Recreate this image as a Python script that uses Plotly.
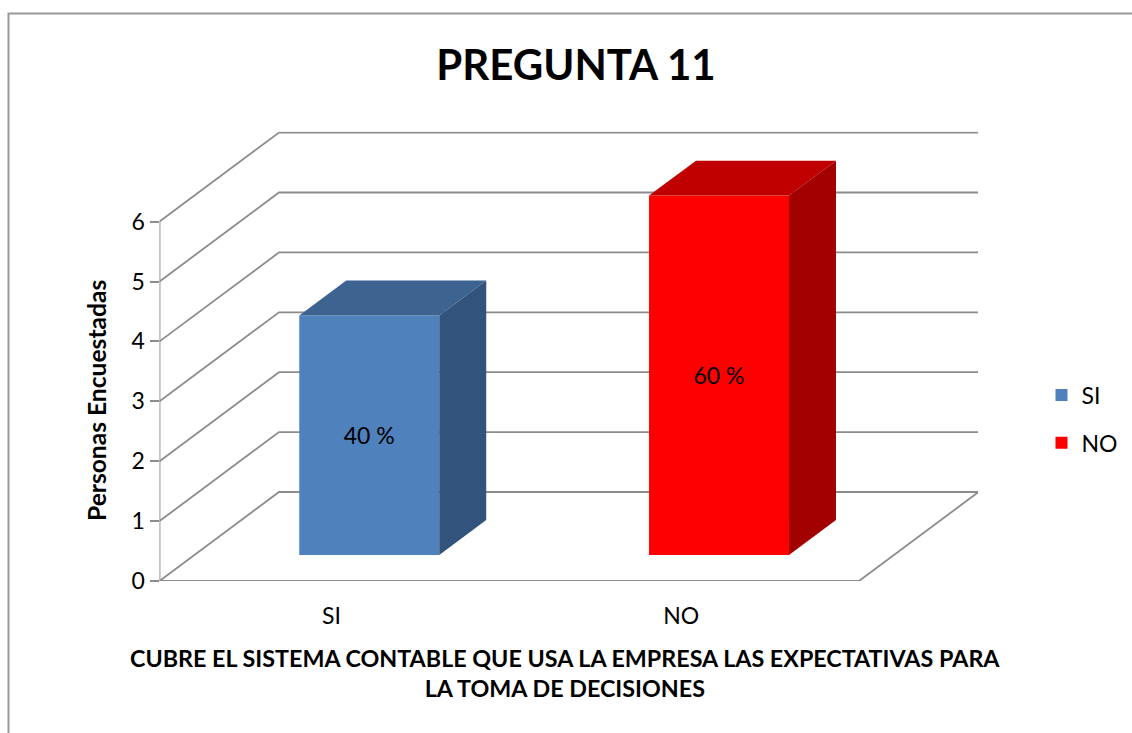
import plotly.graph_objects as go

# ---- data ----
categories = ["SI", "NO"]
values = [4, 6]
value_labels = ["40 %", "60 %"]
y_ticks = [0, 1, 2, 3, 4, 5, 6]
front_colors = ["#4F81BD", "#FF0000"]
top_colors = ["#3D6391", "#C00000"]
side_colors = ["#32547C", "#A30000"]
title_text = "PREGUNTA 11"
x_title = "CUBRE EL SISTEMA CONTABLE QUE USA LA EMPRESA LAS EXPECTATIVAS PARA<br>LA TOMA DE DECISIONES"
y_title = "Personas Encuestadas"

# ---- page geometry (pixels) ----
W, H = 1132, 733
PX_L, PX_R, PX_T, PX_B = 159.5, 978.0, 131.5, 581.0
PX_PER_CAT = 349.75
PX_PER_VAL = 59.9
DEPTH_X, DEPTH_Y = 119.5, 89.0        # oblique offset of the back wall
BAR_W = 140.0
BAR_D0, BAR_D1 = 0.292, 0.685         # bar depth span (0 front, 1 back)
LINE = "#8C8C8C"
FONT = "Lato, 'Open Sans', sans-serif"

dx = DEPTH_X / PX_PER_CAT
dy = DEPTH_Y / PX_PER_VAL
bw = BAR_W / PX_PER_CAT
x0 = -0.5
x1 = x0 + 2.0                          # right end of the front floor edge


def proj(x, v, d):
    """Oblique projection: category position, value, depth -> axis coordinates."""
    return x + d * dx, v + d * dy


fig = go.Figure()
shapes = []


def poly(points):
    path = "M" + " L".join(f"{a},{b}" for a, b in points)
    shapes.append(dict(type="path", path=path, xref="x", yref="y", layer="below",
                       line=dict(color=LINE, width=1.8)))


# walls' gridlines: front edge -> back wall -> right end
for v in y_ticks:
    poly([proj(x0, v, 0), proj(x0, v, 1), proj(x1, v, 1)])
# floor outline and vertical axis
poly([proj(x0, 0, 0), proj(x1, 0, 0), proj(x1, 0, 1)])
poly([proj(x0, y_ticks[0], 0), proj(x0, y_ticks[-1], 0)])

# chart frame, cut by the page on the right and at the bottom
shapes.append(dict(type="path", xref="paper", yref="paper", layer="below",
                   path=f"M{8.5/W},0 L{8.5/W},{1-13.5/H} L1,{1-13.5/H}",
                   line=dict(color="#979797", width=2)))

for i, (cat, val) in enumerate(zip(categories, values)):
    left = i - bw / 2
    right = i + bw / 2
    bx, base = proj(i, 0, BAR_D0)
    fig.add_trace(go.Bar(
        x=[bx], y=[val], base=[base], width=[bw], name=cat,
        marker=dict(color=front_colors[i], line=dict(width=0)),
        text=[value_labels[i]], textposition="inside", insidetextanchor="middle",
        textangle=0, constraintext="none",
        insidetextfont=dict(family=FONT, size=23, color="#000000"),
        hoverinfo="skip", legendgroup=cat,
    ))
    # top face
    top = [proj(left, val, BAR_D0), proj(right, val, BAR_D0),
           proj(right, val, BAR_D1), proj(left, val, BAR_D1), proj(left, val, BAR_D0)]
    fig.add_trace(go.Scatter(
        x=[p[0] for p in top], y=[p[1] for p in top], mode="lines", fill="toself",
        fillcolor=top_colors[i], line=dict(width=0), showlegend=False, hoverinfo="skip",
    ))
    # side face
    side = [proj(right, 0, BAR_D0), proj(right, val, BAR_D0),
            proj(right, val, BAR_D1), proj(right, 0, BAR_D1), proj(right, 0, BAR_D0)]
    fig.add_trace(go.Scatter(
        x=[p[0] for p in side], y=[p[1] for p in side], mode="lines", fill="toself",
        fillcolor=side_colors[i], line=dict(width=0), showlegend=False, hoverinfo="skip",
    ))

fig.update_layout(
    width=W, height=H,
    autosize=False,
    margin=dict(l=0, r=0, t=0, b=0),
    paper_bgcolor="white", plot_bgcolor="rgba(0,0,0,0)",
    barmode="overlay",
    font=dict(family=FONT, color="#000000", size=23),
    title=dict(text=f"<b>{title_text}</b>", x=576 / W, y=1 - 65 / H,
               xanchor="center", yanchor="middle", font=dict(family=FONT, size=42)),
    xaxis=dict(
        automargin=False,
        domain=[PX_L / W, PX_R / W],
        range=[x0, x0 + (PX_R - PX_L) / PX_PER_CAT],
        tickmode="array", tickvals=list(range(len(categories))), ticktext=categories,
        showgrid=False, zeroline=False, showline=False, ticks="",
        ticklabelstandoff=19, ticklabelshift=-3,
        tickfont=dict(family=FONT, size=23),
    ),
    yaxis=dict(
        automargin=False,
        domain=[1 - PX_B / H, 1 - PX_T / H],
        range=[0, (PX_B - PX_T) / PX_PER_VAL],
        tickmode="array", tickvals=y_ticks,
        showgrid=False, zeroline=False, showline=False,
        ticks="outside", ticklen=9, tickwidth=1.8, tickcolor=LINE,
        tickfont=dict(family=FONT, size=23),
    ),
    legend=dict(x=1047.5 / W, y=1 - 373.5 / H, xanchor="left", yanchor="top",
                tracegroupgap=15, indentation=-6, bgcolor="rgba(0,0,0,0)",
                font=dict(family=FONT, size=23), traceorder="grouped"),
    shapes=shapes,
    annotations=[
        dict(text=f"<b>{x_title}</b>", xref="paper", yref="paper", x=565 / W, y=1 - 673 / H,
             xanchor="center", yanchor="middle", showarrow=False, align="center",
             font=dict(family=FONT, size=23.3)),
        dict(text=f"<b>{y_title}</b>", xref="paper", yref="paper", x=96 / W, y=1 - 401 / H,
             xanchor="center", yanchor="middle", showarrow=False, textangle=-90,
             font=dict(family=FONT, size=24.6)),
    ],
)

fig.write_html(
    "out.html",
    config=dict(displayModeBar=False, responsive=False),
    default_width=f"{W}px", default_height=f"{H}px",
    post_script="document.body.style.margin='0';document.documentElement.style.overflow='hidden';",
)
